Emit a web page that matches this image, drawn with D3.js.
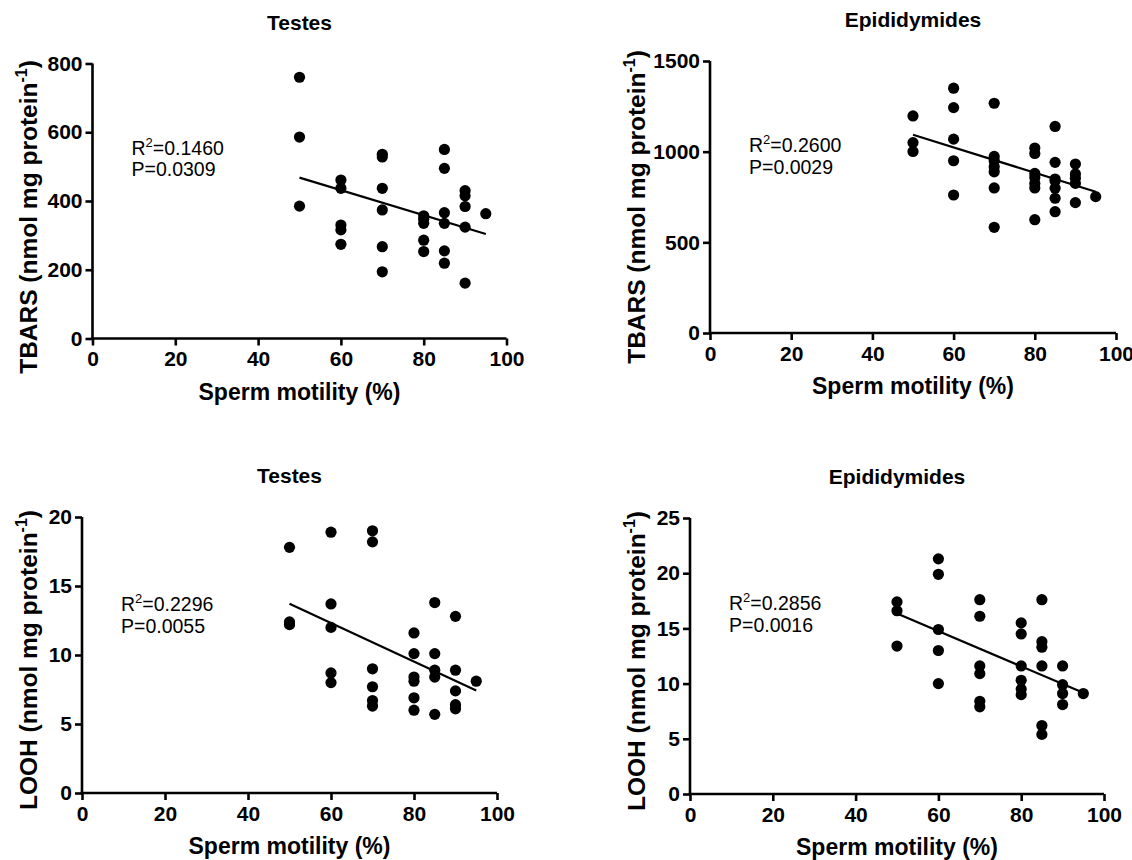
<!DOCTYPE html>
<html>
<head>
<meta charset="utf-8">
<script src="https://cdn.jsdelivr.net/npm/d3@7"></script>
<style>
  body { margin: 0; background: #fff; }
  svg { display: block; }
  text { font-family: Arial, "Liberation Sans", sans-serif; fill: #000; }
</style>
</head>
<body>
<div id="chart"></div>
<script>
// values
var xTicks = [0, 20, 40, 60, 80, 100];

var testesTbarsX = [50, 50, 50, 60, 60, 60, 60, 60, 70, 70, 70, 70, 70, 70, 80, 80, 80, 80, 80, 85, 85, 85, 85, 85, 85, 90, 90, 90, 90, 90, 95];
var testesTbarsY = [760, 586, 385, 461, 437, 330, 316, 274, 536, 528, 437, 374, 267, 194, 357, 347, 335, 286, 253, 550, 495, 366, 335, 255, 219, 430, 415, 384, 324, 161, 363];
var testesTbarsFit = [468, 304];
var testesTbarsTicks = [0, 200, 400, 600, 800];

var epiTbarsX = [50, 50, 50, 60, 60, 60, 60, 60, 70, 70, 70, 70, 70, 70, 70, 80, 80, 80, 80, 80, 80, 80, 85, 85, 85, 85, 85, 85, 85, 90, 90, 90, 90, 90, 95];
var epiTbarsY = [1197, 1050, 1001, 1350, 1243, 1069, 950, 761, 1267, 974, 950, 917, 889, 800, 583, 1020, 990, 880, 858, 825, 800, 625, 1139, 941, 849, 838, 798, 743, 669, 932, 877, 853, 825, 719, 752];
var epiTbarsFit = [1093, 779];
var epiTbarsTicks = [0, 500, 1000, 1500];

var testesLoohX = [50, 50, 50, 60, 60, 60, 60, 60, 70, 70, 70, 70, 70, 70, 80, 80, 80, 80, 80, 80, 85, 85, 85, 85, 85, 90, 90, 90, 90, 90, 95];
var testesLoohY = [17.8, 12.4, 12.2, 18.9, 13.7, 12.0, 8.7, 8.0, 19.0, 18.2, 9.0, 7.7, 6.7, 6.3, 11.6, 10.1, 8.4, 8.1, 6.9, 6.0, 13.8, 10.1, 8.9, 8.4, 5.7, 12.8, 8.9, 7.4, 6.4, 6.1, 8.1];
var testesLoohFit = [13.72, 7.42];
var testesLoohTicks = [0, 5, 10, 15, 20];

var epiLoohX = [50, 50, 50, 60, 60, 60, 60, 60, 70, 70, 70, 70, 70, 70, 80, 80, 80, 80, 80, 80, 85, 85, 85, 85, 85, 85, 90, 90, 90, 90, 95];
var epiLoohY = [17.4, 16.6, 13.4, 21.3, 19.9, 14.9, 13.0, 10.0, 17.6, 16.1, 11.6, 10.9, 8.4, 7.9, 15.5, 14.5, 11.6, 10.3, 9.5, 9.0, 17.6, 13.8, 13.3, 11.6, 6.2, 5.4, 11.6, 9.9, 9.1, 8.1, 9.1];
var epiLoohFit = [16.35, 9.17];
var epiLoohTicks = [0, 5, 10, 15, 20, 25];

var fitX = [50, 95];

var panels = [
  { title: "Testes", yName: "TBARS", x: testesTbarsX, y: testesTbarsY, fit: testesTbarsFit, ticks: testesTbarsTicks,
    r2: "0.1460", p: "0.0309", left: 92.5, right: 506.5, top: 63.5, bottom: 338.5, labelX: 37, labelShift: 16, annDy: 91 },
  { title: "Epididymides", yName: "TBARS", x: epiTbarsX, y: epiTbarsY, fit: epiTbarsFit, ticks: epiTbarsTicks,
    r2: "0.2600", p: "0.0029", left: 710, right: 1116, top: 61, bottom: 333, labelX: 645, labelShift: 10, annDy: 91 },
  { title: "Testes", yName: "LOOH", x: testesLoohX, y: testesLoohY, fit: testesLoohFit, ticks: testesLoohTicks,
    r2: "0.2296", p: "0.0055", left: 82, right: 497, top: 517, bottom: 793, labelX: 37, labelShift: 5, annDy: 94 },
  { title: "Epididymides", yName: "LOOH", x: epiLoohX, y: epiLoohY, fit: epiLoohFit, ticks: epiLoohTicks,
    r2: "0.2856", p: "0.0016", left: 690, right: 1104, top: 518, bottom: 794, labelX: 645, labelShift: 5, annDy: 92 }
];

var svg = d3.select("#chart").append("svg")
  .attr("width", 1132)
  .attr("height", 860);

panels.forEach(function (pn) {
  var x = d3.scaleLinear().domain([0, 100]).range([pn.left, pn.right]);
  var y = d3.scaleLinear().domain([0, d3.max(pn.ticks)]).range([pn.bottom, pn.top]);
  var g = svg.append("g");
  var cx = (pn.left + pn.right) / 2;

  // title
  g.append("text")
    .attr("x", cx)
    .attr("y", pn.top - 34)
    .attr("text-anchor", "middle")
    .style("font-size", "21px")
    .style("font-weight", "bold")
    .text(pn.title);

  // axes
  var xAxis = g.append("g")
    .attr("transform", "translate(0," + pn.bottom + ")")
    .call(d3.axisBottom(x).tickValues(xTicks).tickFormat(d3.format("d")).tickSize(7).tickPadding(6).tickSizeOuter(0));
  var yAxis = g.append("g")
    .attr("transform", "translate(" + pn.left + ",0)")
    .call(d3.axisLeft(y).tickValues(pn.ticks).tickFormat(d3.format("d")).tickSize(7).tickPadding(3).tickSizeOuter(0));

  [xAxis, yAxis].forEach(function (a) {
    a.select(".domain").attr("stroke", "#000").attr("stroke-width", 2.6);
    a.selectAll(".tick line").attr("stroke", "#000").attr("stroke-width", 2.6);
    a.selectAll(".tick text")
      .style("font-family", "Arial, 'Liberation Sans', sans-serif")
      .style("font-size", "21px")
      .style("font-weight", "bold")
      .attr("fill", "#000");
  });
  // domain lines should join at the origin
  xAxis.select(".domain").attr("d", "M" + (pn.left - 1.3) + ",0H" + pn.right);
  yAxis.select(".domain").attr("d", "M0," + (pn.bottom + 1.3) + "V" + pn.top);

  // x label
  g.append("text")
    .attr("x", cx)
    .attr("y", pn.bottom + 61)
    .attr("text-anchor", "middle")
    .style("font-size", "23px")
    .style("font-weight", "bold")
    .text("Sperm motility (%)");

  // y label
  var yl = g.append("text")
    .attr("transform", "translate(" + pn.labelX + "," + ((pn.top + pn.bottom) / 2 + pn.labelShift) + ") rotate(-90)")
    .attr("text-anchor", "middle")
    .style("font-size", "24.5px")
    .style("font-weight", "bold");
  yl.append("tspan").text(pn.yName + " (nmol mg protein");
  yl.append("tspan").attr("dy", -10).style("font-size", "16px").text("-1");
  yl.append("tspan").attr("dy", 10).text(")");

  // fit line
  g.append("line")
    .attr("x1", x(fitX[0])).attr("y1", y(pn.fit[0]))
    .attr("x2", x(fitX[1])).attr("y2", y(pn.fit[1]))
    .attr("stroke", "#000")
    .attr("stroke-width", 2.2);

  // points
  g.selectAll("circle")
    .data(pn.y)
    .enter().append("circle")
    .attr("cx", function (d, i) { return x(pn.x[i]); })
    .attr("cy", function (d) { return y(d); })
    .attr("r", 5.6)
    .attr("fill", "#000");

  // stats
  var ax = pn.left + 39;
  var t1 = g.append("text")
    .attr("x", ax).attr("y", pn.top + pn.annDy)
    .style("font-size", "19.5px");
  t1.append("tspan").text("R");
  t1.append("tspan").attr("dy", -8).style("font-size", "13px").text("2");
  t1.append("tspan").attr("dy", 8).text("=" + pn.r2);
  g.append("text")
    .attr("x", ax).attr("y", pn.top + pn.annDy + 21.5)
    .style("font-size", "19.5px")
    .text("P=" + pn.p);
});
</script>
</body>
</html>
